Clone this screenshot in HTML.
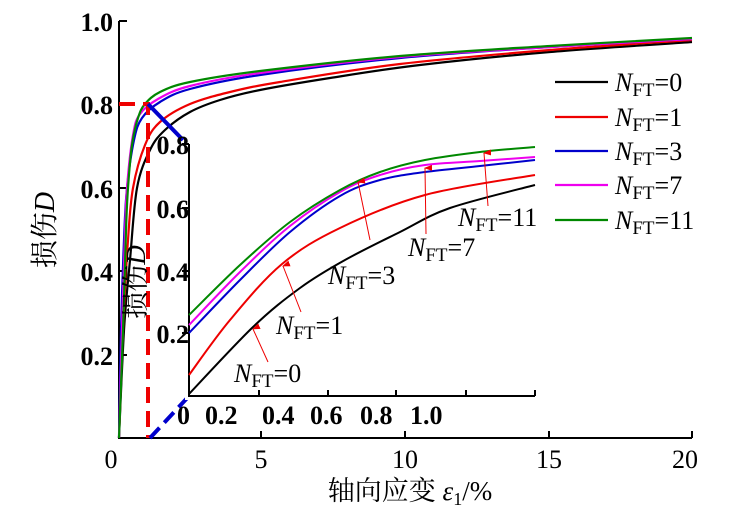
<!DOCTYPE html>
<html><head><meta charset="utf-8"><style>
body{margin:0;background:#fff}
svg{display:block}
text{font-family:"Liberation Serif","Noto Serif CJK SC",serif;fill:#000}
.t{font-size:26px;font-weight:bold}
.l{font-size:26px}
</style></head><body>
<svg id="s" width="731" height="509" viewBox="0 0 731 509">
<defs><marker id="a" markerWidth="6" markerHeight="8" refX="3" refY="1" orient="auto-start-reverse" markerUnits="userSpaceOnUse"><path d="M0,8 L3,0 L6,8 Z" fill="#e00"/></marker></defs>
<path d="M119,21 V438 H692" fill="none" stroke="#000" stroke-width="2"/>
<g stroke="#000" stroke-width="2">
<line x1="119" y1="21" x2="127" y2="21"/><line x1="119" y1="104" x2="127" y2="104"/><line x1="119" y1="188" x2="127" y2="188"/><line x1="119" y1="271" x2="127" y2="271"/><line x1="119" y1="355" x2="127" y2="355"/>
<line x1="261" y1="438" x2="261" y2="431"/><line x1="405" y1="438" x2="405" y2="431"/><line x1="549" y1="438" x2="549" y2="431"/><line x1="692" y1="438" x2="692" y2="431"/>
</g>
<g class="t" text-anchor="end">
<text x="113" y="31">1.0</text><text x="113" y="114">0.8</text><text x="113" y="198">0.6</text><text x="113" y="281">0.4</text><text x="113" y="365">0.2</text>
</g>
<g class="t" text-anchor="middle" style="font-weight:normal">
<text x="111" y="468">0</text><text x="261" y="468">5</text><text x="405" y="468">10</text><text x="549" y="468">15</text><text x="685" y="468">20</text>
</g>
<text x="410" y="500" text-anchor="middle" style="font-size:27px">轴向应变 <tspan font-style="italic">ε</tspan><tspan font-size="18" dy="5">1</tspan><tspan dy="-5">/%</tspan></text>
<text transform="translate(54,230) rotate(-90)" text-anchor="middle" style="font-size:28px">损伤<tspan font-style="italic">D</tspan></text>
<g fill="none" stroke-width="2.2">
<polyline class="c" stroke="#000" points="119,438 124,330 130,260 137,188 150,150 165,130 190,112 220,100 260,90 330,78 420,65 550,52 692,42"/>
<polyline class="c" stroke="#e00" points="119,438 123,330 128,240 133,188 145,145 160,122 190,104 230,92 280,82 400,64 550,50 692,40"/>
<polyline class="c" stroke="#00c" points="119,438 121,330 124,240 127,188 134,140 142,118 160,102 190,89 260,75 400,58 550,47 692,39"/>
<polyline class="c" stroke="#e0e" points="119,438 122,330 125,235 127,188 133,135 140,114 158,99 190,86 260,73 400,57 550,47 692,39"/>
<polyline class="c" stroke="#080" points="119,438 123,330 126,230 128,188 132,145 138,118 145,104 160,92 190,82 260,71 400,56 550,46 692,38"/>
</g>
<path d="M119,104 H148 V438" fill="none" stroke="#e00" stroke-width="4" stroke-dasharray="16,8"/>
<line x1="148" y1="104" x2="183" y2="140" stroke="#00c" stroke-width="4"/>
<line x1="150" y1="438" x2="189" y2="396" stroke="#00c" stroke-width="4" stroke-dasharray="14,7"/>
<rect x="185" y="140" width="360" height="260" fill="#fff"/>
<path d="M189,144 V396 H535" fill="none" stroke="#000" stroke-width="2"/>
<g stroke="#000" stroke-width="2">
<line x1="189" y1="144" x2="182" y2="144"/><line x1="189" y1="208" x2="182" y2="208"/><line x1="189" y1="271" x2="182" y2="271"/><line x1="189" y1="333" x2="182" y2="333"/>
<line x1="259" y1="396" x2="259" y2="390"/><line x1="328" y1="396" x2="328" y2="390"/><line x1="396" y1="396" x2="396" y2="390"/><line x1="466" y1="396" x2="466" y2="390"/><line x1="535" y1="396" x2="535" y2="390"/>
</g>
<g class="t" text-anchor="end">
<text x="189" y="154">0.8</text><text x="189" y="218">0.6</text><text x="189" y="281">0.4</text><text x="189" y="343">0.2</text>
</g>
<g class="t">
<text x="177" y="424">0</text><text x="205" y="424">0.2</text><text x="262" y="424">0.4</text><text x="310" y="424">0.6</text><text x="360" y="424">0.8</text><text x="410" y="424">1.0</text>
</g>
<text transform="translate(145,282) rotate(-90)" text-anchor="middle" style="font-size:27px">损伤<tspan font-style="italic">D</tspan></text>
<g fill="none" stroke-width="2">
<polyline class="c" stroke="#000" points="189,394 253,327 300,288 345,260 400,232 450,208 535,185"/>
<polyline class="c" stroke="#e00" points="189,375 230,320 282,264 340,228 425,195 535,175"/>
<polyline class="c" stroke="#00c" points="189,333 240,280 290,232 340,196 380,180 425,172 480,166 535,160"/>
<polyline class="c" stroke="#e0e" points="189,325 240,272 290,226 340,192 380,175 425,165 480,161 535,157"/>
<polyline class="c" stroke="#080" points="189,315 240,265 290,222 340,190 380,172 425,160 480,152 535,147"/>
</g>
<g stroke="#e00" stroke-width="1">
<line x1="268" y1="362" x2="253" y2="329" marker-end="url(#a)"/>
<line x1="301" y1="312" x2="283" y2="266" marker-end="url(#a)"/>
<line x1="370" y1="240" x2="358" y2="182" marker-end="url(#a)"/>
<line x1="426" y1="234" x2="425" y2="168" marker-end="url(#a)"/>
<line x1="488" y1="206" x2="484" y2="153" marker-end="url(#a)"/>
</g>
<g class="l">
<text x="234" y="382"><tspan font-style="italic">N</tspan><tspan font-size="19" dy="5">FT</tspan><tspan dy="-5">=0</tspan></text>
<text x="276" y="334"><tspan font-style="italic">N</tspan><tspan font-size="19" dy="5">FT</tspan><tspan dy="-5">=1</tspan></text>
<text x="328" y="284"><tspan font-style="italic">N</tspan><tspan font-size="19" dy="5">FT</tspan><tspan dy="-5">=3</tspan></text>
<text x="408" y="256"><tspan font-style="italic">N</tspan><tspan font-size="19" dy="5">FT</tspan><tspan dy="-5">=7</tspan></text>
<text x="458" y="226"><tspan font-style="italic">N</tspan><tspan font-size="19" dy="5">FT</tspan><tspan dy="-5">=11</tspan></text>
</g>
<g stroke-width="2.2">
<line x1="555" y1="82" x2="608" y2="82" stroke="#000"/>
<line x1="555" y1="117" x2="608" y2="117" stroke="#e00"/>
<line x1="555" y1="151" x2="608" y2="151" stroke="#00c"/>
<line x1="555" y1="185" x2="608" y2="185" stroke="#e0e"/>
<line x1="555" y1="220" x2="608" y2="220" stroke="#080"/>
</g>
<g class="l">
<text x="615" y="91"><tspan font-style="italic">N</tspan><tspan font-size="19" dy="5">FT</tspan><tspan dy="-5">=0</tspan></text>
<text x="615" y="126"><tspan font-style="italic">N</tspan><tspan font-size="19" dy="5">FT</tspan><tspan dy="-5">=1</tspan></text>
<text x="615" y="160"><tspan font-style="italic">N</tspan><tspan font-size="19" dy="5">FT</tspan><tspan dy="-5">=3</tspan></text>
<text x="615" y="194"><tspan font-style="italic">N</tspan><tspan font-size="19" dy="5">FT</tspan><tspan dy="-5">=7</tspan></text>
<text x="615" y="229"><tspan font-style="italic">N</tspan><tspan font-size="19" dy="5">FT</tspan><tspan dy="-5">=11</tspan></text>
</g>
</svg>
<script>
document.querySelectorAll('polyline.c').forEach(function(pl){
var p=pl.getAttribute('points').trim().split(/\s+/).map(function(s){return s.split(',').map(Number);});
var d='M'+p[0][0]+','+p[0][1];
for(var i=0;i<p.length-1;i++){
var p0=p[i-1]||p[i],p1=p[i],p2=p[i+1],p3=p[i+2]||p2;
var c1x=p1[0]+(p2[0]-p0[0])/6,c1y=p1[1]+(p2[1]-p0[1])/6;
var c2x=p2[0]-(p3[0]-p1[0])/6,c2y=p2[1]-(p3[1]-p1[1])/6;
d+=' C'+c1x.toFixed(1)+','+c1y.toFixed(1)+' '+c2x.toFixed(1)+','+c2y.toFixed(1)+' '+p2[0]+','+p2[1];}
var path=document.createElementNS('http://www.w3.org/2000/svg','path');
path.setAttribute('d',d);path.setAttribute('stroke',pl.getAttribute('stroke'));
pl.parentNode.replaceChild(path,pl);});
</script>
</body></html>
